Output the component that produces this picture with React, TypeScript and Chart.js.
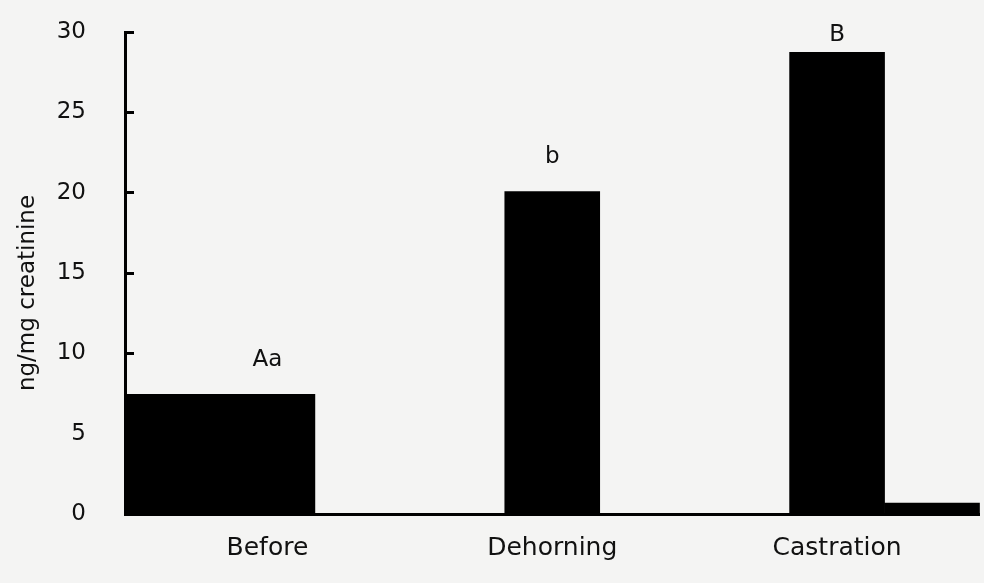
import React, { useEffect, useRef } from "react";
import { Chart, registerables } from "chart.js";

Chart.register(...registerables);

// ---- data ----
const categories = ["Before", "Dehorning", "Castration"];
const seriesLeft = [7.45, null, null];
const seriesMiddle = [7.45, 20.06, 28.73];
const seriesRight = [null, null, 0.68];
const letters = ["Aa", "b", "B"];
const letterLevels = [9.6, 22.2, 29.8];
const yMin = 0;
const yMax = 30;
const yStep = 5;
const yTitle = "ng/mg creatinine";

const FONT = "'DejaVu Sans', Verdana, sans-serif";
const INK = "#111111";
const PAPER = "#f4f4f3";

const lettersPlugin = {
  id: "letters",
  beforeDraw(chart: any) {
    const { ctx, width, height } = chart;
    ctx.save();
    ctx.fillStyle = PAPER;
    ctx.fillRect(0, 0, width, height);
    ctx.restore();
  },
  afterDatasetsDraw(chart: any) {
    const { ctx } = chart;
    const xs = chart.scales.x;
    const ys = chart.scales.y;
    ctx.save();
    ctx.fillStyle = INK;
    ctx.font = `23px ${FONT}`;
    ctx.textAlign = "center";
    ctx.textBaseline = "middle";
    letters.forEach((t, i) => {
      ctx.fillText(t, xs.getPixelForValue(i), ys.getPixelForValue(letterLevels[i]));
    });
    // y axis title
    ctx.translate(28, 293);
    ctx.rotate(-Math.PI / 2);
    ctx.font = `23px ${FONT}`;
    ctx.fillText(yTitle, 0, 0);
    ctx.restore();
  },
};

export default function App() {
  const ref = useRef<HTMLCanvasElement | null>(null);
  useEffect(() => {
    document.body.style.margin = "0";
    document.body.style.background = PAPER;
    const canvas = ref.current;
    if (!canvas) return;
    const bar = { backgroundColor: "#000", borderWidth: 0, categoryPercentage: 1, barPercentage: 1, clip: false as any };
    const chart = new Chart(canvas, {
      type: "bar",
      data: {
        labels: categories,
        datasets: [
          { label: "s1", data: seriesLeft as any, ...bar },
          { label: "s2", data: seriesMiddle as any, ...bar },
          { label: "s3", data: seriesRight as any, ...bar },
        ],
      },
      options: {
        responsive: false,
        animation: false,
        devicePixelRatio: 1,
        layout: { padding: { left: 0, right: 4.5, top: 32, bottom: 0 } },
        plugins: { legend: { display: false }, tooltip: { enabled: false } },
        scales: {
          x: {
            offset: true,
            grid: { drawOnChartArea: false, drawTicks: false },
            border: { display: true, width: 3, color: "#000" },
            ticks: { color: INK, font: { family: FONT, size: 25 }, padding: 19 },
            afterFit: (s: any) => {
              s.height = 69;
              s.paddingLeft = 0;
              s.paddingRight = 0;
            },
          },
          y: {
            min: yMin,
            max: yMax,
            ticks: { stepSize: yStep, color: INK, font: { family: FONT, size: 23 }, padding: 48 },
            grid: { drawOnChartArea: false, drawTicks: true, tickLength: -9, tickWidth: 3, tickColor: "#000", color: "#000" },
            border: { display: true, width: 3, color: "#000" },
            afterFit: (s: any) => {
              s.width = 125;
              s.paddingTop = 0;
              s.paddingBottom = 0;
            },
          },
        },
      },
      plugins: [lettersPlugin],
    });
    return () => chart.destroy();
  }, []);
  return (
    <div style={{ position: "fixed", left: 0, top: 0, width: 984, height: 583, background: PAPER }}>
      <canvas ref={ref} width={984} height={583} style={{ display: "block" }} />
    </div>
  );
}
